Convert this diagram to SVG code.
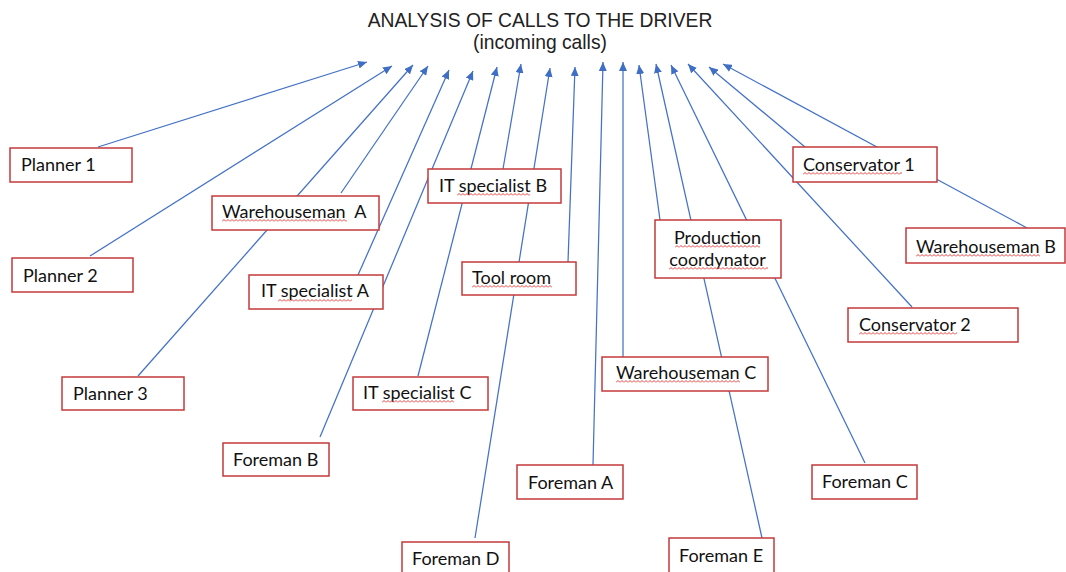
<svg xmlns="http://www.w3.org/2000/svg" width="1066" height="572" viewBox="0 0 1066 572">
<style>
.box{fill:#ffffff;stroke:#C4393B;stroke-width:1.5}
.lbl{font-family:Lato,"Open Sans","Liberation Sans",sans-serif;font-size:18px;fill:#111111}
.title{font-family:"Liberation Sans",Arial,sans-serif;font-size:19.3px;fill:#222222;text-anchor:middle}
.conn line{stroke:#4472C4;stroke-width:1.25;marker-end:url(#arr)}
.sq{fill:url(#squig)}
</style>
<defs>
<marker id="arr" markerUnits="userSpaceOnUse" markerWidth="10" markerHeight="8" refX="9" refY="4" orient="auto">
<path d="M0,0 L9,4 L0,8 z" fill="#3F6FC4"/>
</marker>
<pattern id="squig" patternUnits="userSpaceOnUse" width="4" height="3">
<path d="M0,2.5 L2,0.5 L4,2.5" fill="none" stroke="#E0403C" stroke-width="1"/>
</pattern>
</defs>
<rect width="1066" height="572" fill="#ffffff"/>
<text class="title" x="540" y="27">ANALYSIS OF CALLS TO THE DRIVER</text>
<text class="title" x="540" y="49">(incoming calls)</text>
<g id="connectors" class="conn">
<line x1="98" y1="147" x2="367" y2="62"/>
<line x1="90" y1="256" x2="392" y2="66"/>
<line x1="138" y1="376" x2="413" y2="65"/>
<line x1="341" y1="193" x2="428" y2="66"/>
<line x1="358" y1="275" x2="449" y2="70"/>
<line x1="320" y1="437" x2="473" y2="71"/>
<line x1="418" y1="376" x2="497" y2="67"/>
<line x1="503" y1="169" x2="521" y2="64"/>
<line x1="475" y1="538" x2="550" y2="68"/>
<line x1="568" y1="262" x2="575" y2="67"/>
<line x1="593" y1="465" x2="603" y2="62"/>
<line x1="623" y1="357" x2="623" y2="62"/>
<line x1="660" y1="220" x2="639" y2="65"/>
<line x1="762" y1="538" x2="656" y2="64"/>
<line x1="865" y1="463" x2="671" y2="65"/>
<line x1="912" y1="307" x2="688" y2="64"/>
<line x1="805" y1="147" x2="709" y2="67"/>
<line x1="1027" y1="228" x2="723" y2="64"/>
</g>
<g id="planner1"><rect class="box" x="10" y="148" width="122" height="34"/><text class="lbl" x="21" y="171">Planner 1</text></g>
<g id="planner2"><rect class="box" x="12" y="258" width="121" height="34"/><text class="lbl" x="23" y="282">Planner 2</text></g>
<g id="warehousemanA"><rect class="box" x="212" y="196" width="167" height="34"/><text class="lbl" x="222" y="218" xml:space="preserve">Warehouseman  A</text><rect class="sq" transform="translate(222,219)" width="125" height="3"/></g>
<g id="itspecialistA"><rect class="box" x="249" y="275" width="134" height="34"/><text class="lbl" x="261" y="297">IT specialist A</text><rect class="sq" transform="translate(278,299)" width="74" height="3"/></g>
<g id="planner3"><rect class="box" x="62" y="377" width="122" height="33"/><text class="lbl" x="73" y="400">Planner 3</text></g>
<g id="foremanB"><rect class="box" x="223" y="443" width="106" height="33"/><text class="lbl" x="233" y="466">Foreman B</text></g>
<g id="itspecialistC"><rect class="box" x="353" y="377" width="135" height="33"/><text class="lbl" x="363" y="399">IT specialist C</text><rect class="sq" transform="translate(382,400)" width="72" height="3"/></g>
<g id="foremanD"><rect class="box" x="402" y="542" width="107" height="40"/><text class="lbl" x="412" y="565">Foreman D</text></g>
<g id="itspecialistB"><rect class="box" x="428" y="169" width="133" height="34"/><text class="lbl" x="439" y="192">IT specialist B</text><rect class="sq" transform="translate(457,193)" width="73" height="3"/></g>
<g id="toolroom"><rect class="box" x="462" y="262" width="114" height="33"/><text class="lbl" x="472" y="284">Tool room</text><rect class="sq" transform="translate(472,285)" width="80" height="3"/></g>
<g id="productioncoordynator"><rect class="box" x="655" y="220" width="126" height="58"/><text class="lbl" x="717.5" y="244" text-anchor="middle">Production</text><text class="lbl" x="717.5" y="266" text-anchor="middle">coordynator</text><rect class="sq" transform="translate(675,245)" width="85" height="3"/><rect class="sq" transform="translate(669,267)" width="99" height="3"/></g>
<g id="warehousemanC"><rect class="box" x="602" y="357" width="166" height="34"/><text class="lbl" x="616" y="379">Warehouseman C</text><rect class="sq" transform="translate(616,380)" width="124" height="3"/></g>
<g id="foremanA"><rect class="box" x="517" y="465" width="106" height="34"/><text class="lbl" x="528" y="489">Foreman A</text></g>
<g id="foremanE"><rect class="box" x="669" y="538" width="105" height="44"/><text class="lbl" x="679" y="562">Foreman E</text></g>
<g id="foremanC"><rect class="box" x="812" y="465" width="105" height="34"/><text class="lbl" x="822" y="488">Foreman C</text></g>
<g id="conservator1"><rect class="box" x="793" y="147" width="144" height="35"/><text class="lbl" x="803" y="171">Conservator 1</text><rect class="sq" transform="translate(803,172)" width="99" height="3"/></g>
<g id="warehousemanB"><rect class="box" x="906" y="228" width="159" height="35"/><text class="lbl" x="916" y="253">Warehouseman B</text><rect class="sq" transform="translate(916,254)" width="124" height="3"/></g>
<g id="conservator2"><rect class="box" x="848" y="308" width="170" height="34"/><text class="lbl" x="859" y="331">Conservator 2</text><rect class="sq" transform="translate(859,332)" width="98" height="3"/></g>
</svg>
